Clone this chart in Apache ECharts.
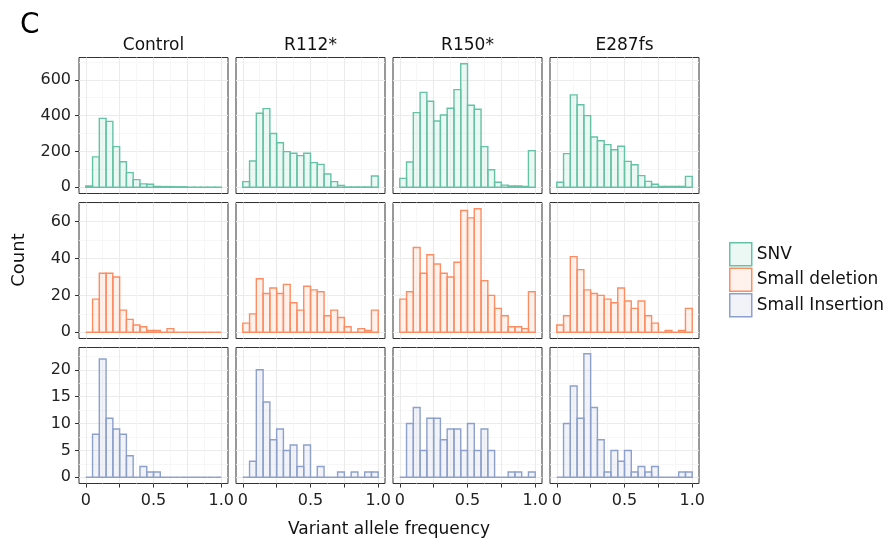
<!DOCTYPE html>
<html>
<head>
<meta charset="utf-8">
<script src="https://cdn.jsdelivr.net/npm/echarts@6/dist/echarts.min.js"></script>
<style>
html, body { margin: 0; padding: 0; background: #fff; }
#chart { width: 888px; height: 544px; }
</style>
</head>
<body>
<div id="chart"></div>
<script>
// facets: columns = samples, rows = variant types
const samples = ['Control', 'R112*', 'R150*', 'E287fs'];
const types = ['SNV', 'Small deletion', 'Small Insertion'];

// histogram bins, width 0.05 from 0 to 1 (20 bins)
const binStart = 0;
const binWidth = 0.05;

// counts per bin
const snvControl = [8, 170, 385, 368, 227, 143, 82, 43, 19, 17, 5, 4, 4, 3, 3, 1, 1, 1, 1, 1];
const snvR112 = [32, 147, 413, 439, 300, 249, 199, 190, 177, 190, 138, 128, 74, 32, 11, 2, 2, 2, 2, 63];
const snvR150 = [50, 141, 417, 530, 480, 370, 404, 441, 545, 690, 458, 436, 227, 98, 28, 12, 8, 8, 5, 205];
const snvE287 = [28, 188, 516, 461, 400, 281, 260, 238, 210, 229, 145, 126, 65, 33, 17, 5, 5, 5, 5, 61];

const delControl = [0, 18, 32, 32, 30, 12, 7, 4, 3, 1, 1, 0, 2, 0, 0, 0, 0, 0, 0, 0];
const delR112 = [5, 10, 29, 21, 24, 21, 26, 16, 12, 25, 23, 22, 9, 12, 8, 3, 0, 2, 1, 12];
const delR150 = [18, 22, 46, 32, 42, 37, 32, 30, 38, 66, 62, 67, 28, 20, 13, 9, 3, 3, 2, 22];
const delE287 = [4, 9, 41, 34, 23, 21, 20, 18, 16, 24, 17, 13, 17, 9, 5, 0, 1, 0, 1, 13];

const insControl = [0, 8, 22, 11, 9, 8, 4, 0, 2, 1, 1, 0, 0, 0, 0, 0, 0, 0, 0, 0];
const insR112 = [0, 3, 20, 14, 7, 9, 5, 6, 2, 6, 0, 2, 0, 0, 1, 0, 1, 0, 1, 1];
const insR150 = [0, 10, 13, 5, 11, 11, 7, 9, 9, 5, 10, 5, 9, 5, 0, 0, 1, 1, 0, 1];
const insE287 = [0, 10, 17, 11, 23, 13, 7, 1, 5, 3, 5, 1, 2, 1, 2, 0, 0, 0, 1, 1];

// axis breaks
const xTicks = [0, 0.25, 0.5, 0.75, 1];
const xLabels = [0, 0.5, 1];
const xMinor = [0.125, 0.375, 0.625, 0.875];
const yTicksSnv = [0, 200, 400, 600];
const yTicksDel = [0, 20, 40, 60];
const yTicksIns = [0, 5, 10, 15, 20];
const yMinorSnv = [100, 300, 500, 700];
const yMinorDel = [10, 30, 50, 70];
const yMinorIns = [2.5, 7.5, 12.5, 17.5, 22.5];

const counts = [
  [snvControl, snvR112, snvR150, snvE287],
  [delControl, delR112, delR150, delE287],
  [insControl, insR112, insR150, insE287]
];
const yTicks = [yTicksSnv, yTicksDel, yTicksIns];
const yMinor = [yMinorSnv, yMinorDel, yMinorIns];

const strokes = ['#66c2a5', '#fc8d62', '#8da0cb'];
const fills = ['rgba(102,194,165,0.12)', 'rgba(252,141,98,0.12)', 'rgba(141,160,203,0.12)'];
const font = "'DejaVu Sans', sans-serif";

// layout of panels
const panelLeft = [79, 236, 393, 550];
const panelTop = [57.5, 202.5, 347.5];
const panelW = 149;
const panelH = 136;

const grids = [], xAxes = [], yAxes = [], series = [];

for (let r = 0; r < 3; r++) {
  // free y scale per row, 5% expansion like ggplot
  const rowMax = Math.max(...counts[r].map(a => Math.max(...a)));
  for (let c = 0; c < 4; c++) {
    const g = r * 4 + c;
    grids.push({
      left: panelLeft[c], top: panelTop[r], width: panelW, height: panelH,
      show: true, borderColor: '#333', borderWidth: 1, backgroundColor: '#fff',
      containLabel: false, outerBoundsMode: 'none'
    });
    xAxes.push({
      type: 'value', gridIndex: g, min: -0.05, max: 1.05, position: 'bottom',
      axisLine: { show: false, onZero: false },
      axisTick: { show: r === 2, length: 4, customValues: xTicks, lineStyle: { color: '#333', width: 1 } },
      axisLabel: {
        show: r === 2, customValues: xLabels, margin: 9, fontSize: 16, color: '#222', fontFamily: font,
        formatter: v => (v === 1 ? '1.0' : String(v))
      },
      splitLine: { show: true, lineStyle: { color: '#ebebeb', width: 1.1 } }
    });
    xAxes.push({
      type: 'value', gridIndex: g, min: -0.05, max: 1.05, position: 'top',
      axisLine: { show: false, onZero: false },
      axisTick: { show: false, customValues: xMinor },
      axisLabel: { show: false },
      splitLine: { show: true, lineStyle: { color: '#f5f5f5', width: 0.8 } }
    });
    yAxes.push({
      type: 'value', gridIndex: g, min: -0.05 * rowMax, max: 1.05 * rowMax, position: 'left',
      axisLine: { show: false, onZero: false },
      axisTick: { show: c === 0, length: 4, customValues: yTicks[r], lineStyle: { color: '#333', width: 1 } },
      axisLabel: { show: c === 0, customValues: yTicks[r], margin: 8, fontSize: 16, color: '#222', fontFamily: font },
      splitLine: { show: true, lineStyle: { color: '#ebebeb', width: 1.1 } }
    });
    yAxes.push({
      type: 'value', gridIndex: g, min: -0.05 * rowMax, max: 1.05 * rowMax, position: 'right',
      axisLine: { show: false, onZero: false },
      axisTick: { show: false, customValues: yMinor[r] },
      axisLabel: { show: false },
      splitLine: { show: true, lineStyle: { color: '#f5f5f5', width: 0.8 } }
    });
    const stroke = strokes[r], fill = fills[r];
    series.push({
      type: 'custom',
      name: types[r],
      xAxisIndex: 2 * g,
      yAxisIndex: 2 * g,
      silent: true,
      clip: false,
      itemStyle: { color: fill, borderColor: stroke },
      encode: { x: [0, 1], y: 2 },
      data: counts[r][c].map((v, i) => [binStart + i * binWidth, binStart + (i + 1) * binWidth, v]),
      renderItem: function (params, api) {
        const p0 = api.coord([api.value(0), 0]);
        const p1 = api.coord([api.value(1), api.value(2)]);
        return {
          type: 'rect',
          shape: { x: p0[0], y: p1[1], width: p1[0] - p0[0], height: p0[1] - p1[1] },
          style: { fill: fill, stroke: stroke, lineWidth: 1.4 }
        };
      }
    });
  }
}

const texts = [
  { type: 'text', x: 20, y: 12, style: { text: 'C', fontSize: 28, fontFamily: font, fill: '#000' } }
];
samples.forEach((s, c) => {
  texts.push({
    type: 'text', x: panelLeft[c] + panelW / 2, y: 46,
    style: { text: s, fontSize: 17, fontFamily: font, fill: '#111',
      align: 'center', verticalAlign: 'middle', textAlign: 'center', textVerticalAlign: 'middle' }
  });
});
texts.push({
  type: 'text', x: 19, y: 260, rotation: Math.PI / 2,
  style: { text: 'Count', fontSize: 18, fontFamily: font, fill: '#111',
    align: 'center', verticalAlign: 'middle', textAlign: 'center', textVerticalAlign: 'middle' }
});
texts.push({
  type: 'text', x: 389, y: 530,
  style: { text: 'Variant allele frequency', fontSize: 17, fontFamily: font, fill: '#111',
    align: 'center', verticalAlign: 'middle', textAlign: 'center', textVerticalAlign: 'middle' }
});

const chart = echarts.init(document.getElementById('chart'), null, { renderer: 'canvas' });
chart.setOption({
  animation: false,
  backgroundColor: '#fff',
  grid: grids,
  xAxis: xAxes,
  yAxis: yAxes,
  legend: {
    orient: 'vertical', left: 724, top: 237,
    itemWidth: 22, itemHeight: 23, itemGap: 1,
    selectedMode: false,
    textStyle: { fontSize: 17, color: '#111', fontFamily: font },
    data: types.map((t, i) => ({
      name: t, icon: 'rect',
      itemStyle: { color: fills[i], borderColor: strokes[i], borderWidth: 1.5 }
    }))
  },
  graphic: texts,
  series: series
});
</script>
</body>
</html>
